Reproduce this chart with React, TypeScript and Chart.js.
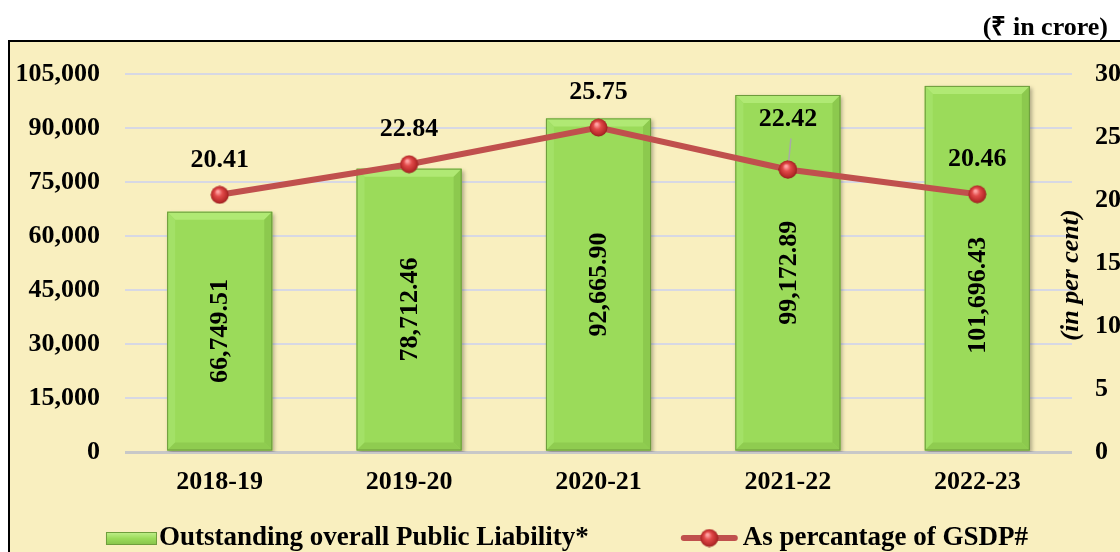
import React, { useEffect, useRef } from "react";
import { Chart, registerables } from "chart.js";

Chart.register(...registerables);

const categories = ["2018-19", "2019-20", "2020-21", "2021-22", "2022-23"];
const liability = [66749.51, 78712.46, 92665.9, 99172.89, 101696.43];
const gsdpPct = [20.41, 22.84, 25.75, 22.42, 20.46];
const leftMax = 105000;
const leftStep = 15000;
const rightMax = 30;
const rightStep = 5;
const barLegend = "Outstanding overall Public Liability*";
const lineLegend = "As percantage of GSDP#";
const unitTitle = "(₹ in crore)";
const rightTitle = "(in per cent)";

const FONT = "'Liberation Serif', 'Times New Roman', serif";
const BAR_FILL = "#9BDB5A";
const LINE_COLOR = "#C0504D";

function makeSphere(size: number): HTMLCanvasElement {
  const c = document.createElement("canvas");
  c.width = size;
  c.height = size;
  const g = c.getContext("2d")!;
  const r = size / 2;
  const grad = g.createRadialGradient(r * 0.8, r * 0.65, r * 0.1, r, r, r);
  grad.addColorStop(0, "#FFA3A3");
  grad.addColorStop(0.35, "#E24A4A");
  grad.addColorStop(0.8, "#B82A2A");
  grad.addColorStop(1, "#8A1C1C");
  g.fillStyle = grad;
  g.beginPath();
  g.arc(r, r, r - 0.5, 0, Math.PI * 2);
  g.fill();
  return c;
}

const fmtBar = (v: number) =>
  v.toLocaleString("en-US", { minimumFractionDigits: 2, maximumFractionDigits: 2 });

const decorPlugin = {
  id: "decor",
  beforeDatasetDraw(chart: any, args: any) {
    if (args.index !== 0) return;
    const ctx = chart.ctx;
    ctx.save();
    ctx.shadowColor = "rgba(0,0,0,0.3)";
    ctx.shadowBlur = 4;
    ctx.shadowOffsetX = 2;
    ctx.shadowOffsetY = 2;
  },
  afterDatasetDraw(chart: any, args: any) {
    if (args.index !== 0) return;
    const ctx = chart.ctx;
    ctx.restore();
    const meta = chart.getDatasetMeta(0);
    const b = 8;
    meta.data.forEach((el: any) => {
      const l = el.x - el.width / 2;
      const r = el.x + el.width / 2;
      const t = el.y;
      const bt = el.base;
      const poly = (pts: number[][], color: string) => {
        ctx.beginPath();
        ctx.moveTo(pts[0][0], pts[0][1]);
        for (let i = 1; i < pts.length; i++) ctx.lineTo(pts[i][0], pts[i][1]);
        ctx.closePath();
        ctx.fillStyle = color;
        ctx.fill();
      };
      ctx.save();
      poly([[l, t], [r, t], [r - b, t + b], [l + b, t + b]], "#B0E974");
      poly([[l, t], [l + b, t + b], [l + b, bt - b], [l, bt]], "#A3E167");
      poly([[r, t], [r, bt], [r - b, bt - b], [r - b, t + b]], "#8CC94E");
      poly([[l, bt], [l + b, bt - b], [r - b, bt - b], [r, bt]], "#8FCC50");
      ctx.strokeStyle = "#6C9A3C";
      ctx.lineWidth = 1;
      ctx.strokeRect(l + 0.5, t + 0.5, r - l - 1, bt - t - 1);
      ctx.restore();
    });
  },
  afterDraw(chart: any, _args: any, opts: any) {
    const ctx = chart.ctx;
    const area = chart.chartArea;
    ctx.save();
    ctx.fillStyle = "#000";
    ctx.font = `bold 26px ${FONT}`;
    const barShift: Record<number, number> = (opts && opts.barLabelShift) || {};
    const barMeta = chart.getDatasetMeta(0);
    barMeta.data.forEach((el: any, i: number) => {
      ctx.save();
      ctx.translate(el.x + 1, (el.y + el.base) / 2 + (barShift[i] || 0));
      ctx.rotate(-Math.PI / 2);
      ctx.textAlign = "center";
      ctx.textBaseline = "middle";
      ctx.fillText(fmtBar(liability[i]), 0, 0);
      ctx.restore();
    });
    const lineMeta = chart.getDatasetMeta(1);
    const lifts: Record<number, number> = (opts && opts.lineLabelLift) || {};
    lineMeta.data.forEach((el: any, i: number) => {
      const lift = lifts[i] ?? 35;
      if (lifts[i]) {
        ctx.save();
        ctx.strokeStyle = "#A9A9A9";
        ctx.lineWidth = 1.5;
        ctx.beginPath();
        ctx.moveTo(el.x + 3, el.y - lift + 19);
        ctx.lineTo(el.x, el.y);
        ctx.stroke();
        ctx.restore();
        const img = (el.options && el.options.pointStyle) as HTMLCanvasElement;
        if (img && img.width) ctx.drawImage(img, el.x - img.width / 2, el.y - img.height / 2);
      }
      ctx.textAlign = "center";
      ctx.textBaseline = "middle";
      ctx.fillText(gsdpPct[i].toFixed(2), el.x, el.y - lift);
    });
    ctx.save();
    ctx.font = `italic bold 26px ${FONT}`;
    ctx.translate(area.right - 1, (area.top + area.bottom) / 2 + 12);
    ctx.rotate(-Math.PI / 2);
    ctx.textAlign = "center";
    ctx.textBaseline = "middle";
    ctx.fillText(rightTitle, 0, 0);
    ctx.restore();
    // legend
    ctx.font = `bold 27px ${FONT}`;
    const w1 = ctx.measureText(barLegend).width;
    const w2 = ctx.measureText(lineLegend).width;
    const boxW = 51;
    const lineW = 57;
    const gap = 92;
    const total = boxW + 2 + w1 + gap + lineW + 5 + w2;
    let x = chart.width / 2 - total / 2 + 2;
    const cy = 496;
    const g = ctx.createLinearGradient(0, cy - 6, 0, cy + 7);
    g.addColorStop(0, "#C2F08E");
    g.addColorStop(0.5, BAR_FILL);
    g.addColorStop(1, "#86C24A");
    ctx.fillStyle = g;
    ctx.fillRect(x, cy - 6, boxW, 13);
    ctx.strokeStyle = "#6E9E3C";
    ctx.lineWidth = 1;
    ctx.strokeRect(x + 0.5, cy - 5.5, boxW - 1, 12);
    x += boxW + 2;
    ctx.fillStyle = "#000";
    ctx.textAlign = "left";
    ctx.textBaseline = "middle";
    ctx.fillText(barLegend, x, cy);
    x += w1 + gap;
    ctx.strokeStyle = LINE_COLOR;
    ctx.lineWidth = 6;
    ctx.lineCap = "round";
    ctx.beginPath();
    ctx.moveTo(x + 3, cy);
    ctx.lineTo(x + lineW - 3, cy);
    ctx.stroke();
    const sph = chart.$sphere as HTMLCanvasElement;
    if (sph) ctx.drawImage(sph, x + lineW / 2 - sph.width / 2, cy - sph.height / 2);
    x += lineW + 5;
    ctx.fillStyle = "#000";
    ctx.fillText(lineLegend, x, cy);
    ctx.restore();
  },
};

export default function App() {
  const ref = useRef<HTMLCanvasElement>(null);
  useEffect(() => {
    if (!ref.current) return;
    const sphere = makeSphere(19);
    const chart = new Chart(ref.current, {
      type: "bar",
      data: {
        labels: categories,
        datasets: [
          {
            type: "bar",
            label: barLegend,
            data: liability,
            backgroundColor: BAR_FILL,
            borderWidth: 0,
            barPercentage: 0.555,
            categoryPercentage: 1,
            yAxisID: "y",
            order: 1,
          },
          {
            type: "line",
            label: lineLegend,
            data: gsdpPct,
            borderColor: LINE_COLOR,
            borderWidth: 6,
            tension: 0,
            pointStyle: sphere as any,
            pointRadius: 9,
            yAxisID: "y1",
            order: 0,
          },
        ] as any,
      },
      options: {
        responsive: false,
        animation: false,
        devicePixelRatio: 1,
        layout: { padding: { top: 32, left: 0, right: 0, bottom: 0 } },
        plugins: {
          legend: { display: false },
          tooltip: { enabled: false },
          decor: { barLabelShift: { 4: 27 }, lineLabelLift: { 3: 50 } },
        },
        scales: {
          x: {
            grid: { display: false, drawTicks: false },
            border: { display: false },
            ticks: {
              color: "#000",
              font: { family: FONT, size: 26, weight: "bold" },
              padding: 15,
            },
            afterFit: (s: any) => {
              s.height = 100;
              s.paddingLeft = 0;
              s.paddingRight = 0;
            },
          },
          y: {
            position: "left",
            min: 0,
            max: leftMax,
            grid: {
              drawTicks: false,
              color: (c: any) => (c.tick && c.tick.value === 0 ? "#C8C8C8" : "#D7D8E4"),
              lineWidth: (c: any) => (c.tick && c.tick.value === 0 ? 3 : 2),
            },
            border: { display: false },
            ticks: {
              stepSize: leftStep,
              color: "#000",
              font: { family: FONT, size: 26, weight: "bold" },
              padding: 25,
              callback: (v: any) => Number(v).toLocaleString("en-US"),
            },
            afterFit: (s: any) => {
              s.width = 115;
              s.paddingTop = 0;
              s.paddingBottom = 0;
            },
          },
          y1: {
            position: "right",
            min: 0,
            max: rightMax,
            grid: { drawOnChartArea: false, drawTicks: false },
            border: { display: false },
            ticks: {
              stepSize: rightStep,
              color: "#000",
              font: { family: FONT, size: 26, weight: "bold" },
              padding: 23,
            },
            afterFit: (s: any) => {
              s.width = 48;
              s.paddingTop = 0;
              s.paddingBottom = 0;
            },
          },
        },
      } as any,
      plugins: [decorPlugin],
    });
    (chart as any).$sphere = sphere;
    chart.draw();
    return () => chart.destroy();
  }, []);

  return (
    <div
      style={{
        position: "fixed",
        left: 8,
        top: 8,
        width: 1112,
        height: 544,
        overflow: "hidden",
        fontFamily: FONT,
      }}
    >
      <div
        style={{
          position: "absolute",
          right: 12,
          top: 6,
          fontSize: 26,
          lineHeight: "26px",
          fontWeight: "bold",
          color: "#000",
          whiteSpace: "nowrap",
        }}
      >
        {unitTitle}
      </div>
      <div
        style={{
          position: "absolute",
          left: 0,
          top: 32,
          width: 1130,
          height: 540,
          border: "2px solid #000",
          background: "#F9EFBF",
        }}
      >
        <canvas ref={ref} width={1110} height={510} style={{ display: "block", width: 1110, height: 510 }} />
      </div>
    </div>
  );
}
